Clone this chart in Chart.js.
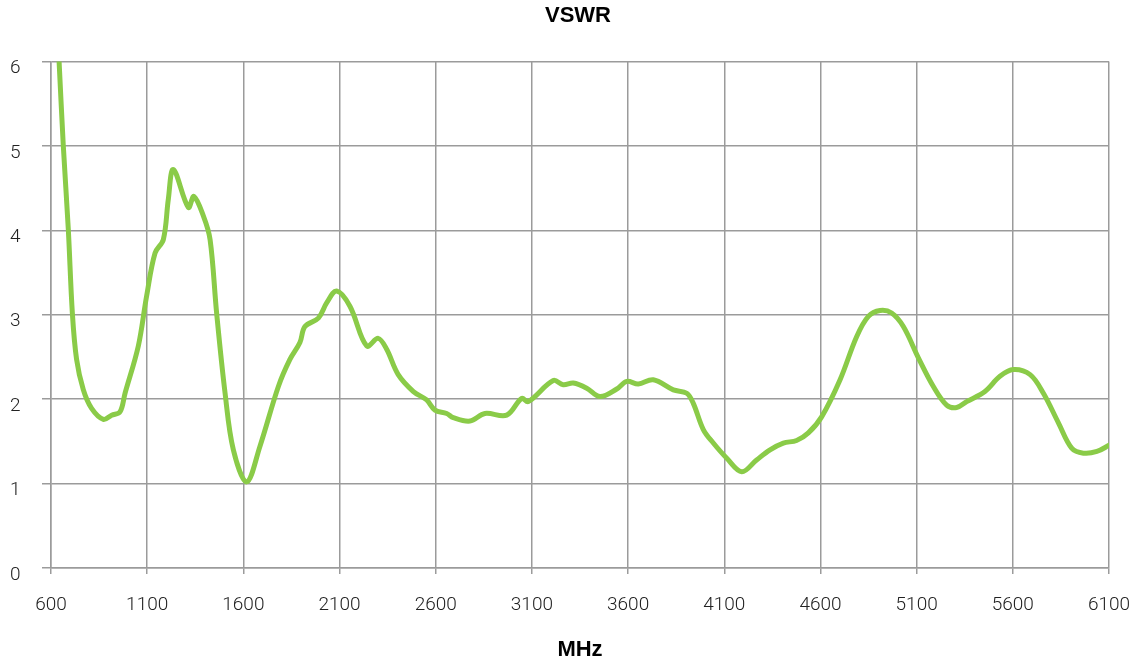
<!DOCTYPE html>
<html>
<head>
<meta charset="utf-8">
<title>VSWR</title>
<script src="https://cdn.jsdelivr.net/npm/chart.js@4/dist/chart.umd.min.js"></script>
<style>
  html, body { margin: 0; padding: 0; background: #fff; }
  #wrap { width: 1148px; height: 666px; }
</style>
</head>
<body>
<div id="wrap"><canvas id="vswrChart" width="1148" height="666"></canvas></div>
<script>
// ── Données ──
const freqMHz = [
  642, 664, 690, 711, 733, 768, 811, 872, 915, 959,
  985, 1054, 1097, 1141, 1184, 1210, 1236, 1314, 1343, 1392,
  1427, 1461, 1505, 1548, 1617, 1686, 1782, 1842, 1894, 1920,
  1990, 2033, 2085, 2154, 2241, 2301, 2345, 2405, 2484, 2553,
  2596, 2657, 2691, 2778, 2856, 2969, 3047, 3081, 3211, 3263,
  3315, 3385, 3454, 3541, 3593, 3653, 3731, 3835, 3905, 3939,
  3991, 4043, 4113, 4191, 4268, 4338, 4407, 4476, 4537, 4606,
  4702, 4788, 4849, 4910, 4970, 5031, 5109, 5187, 5256, 5308,
  5360, 5455, 5533, 5603, 5690, 5759, 5837, 5906, 5967, 6037,
  6105
];
const vswr = [
  6.00, 5.00, 4.01, 3.02, 2.47, 2.11, 1.89, 1.76, 1.81, 1.85,
  2.07, 2.63, 3.22, 3.73, 3.89, 4.37, 4.72, 4.27, 4.40, 4.17,
  3.89, 3.02, 2.07, 1.40, 1.02, 1.44, 2.15, 2.47, 2.67, 2.86,
  2.96, 3.14, 3.28, 3.10, 2.63, 2.72, 2.59, 2.29, 2.09, 1.99,
  1.87, 1.83, 1.78, 1.74, 1.83, 1.81, 2.01, 1.97, 2.22, 2.17,
  2.19, 2.13, 2.03, 2.12, 2.21, 2.18, 2.23, 2.11, 2.07, 1.95,
  1.64, 1.48, 1.30, 1.14, 1.28, 1.40, 1.48, 1.51, 1.60, 1.79,
  2.23, 2.74, 2.98, 3.05, 3.02, 2.86, 2.49, 2.15, 1.93, 1.90,
  1.97, 2.09, 2.27, 2.35, 2.29, 2.07, 1.72, 1.42, 1.36, 1.38,
  1.46
];
const xTicks = [600, 1100, 1600, 2100, 2600, 3100, 3600, 4100, 4600, 5100, 5600, 6100];
const yTicks = [0, 1, 2, 3, 4, 5, 6];

const GRID = '#9b9b9b';
const points = freqMHz.map((f, i) => ({ x: f, y: vswr[i] }));

new Chart(document.getElementById('vswrChart').getContext('2d'), {
  type: 'line',
  data: {
    datasets: [{
      label: 'VSWR',
      data: points,
      borderColor: '#8acb48',
      borderWidth: 5,
      fill: false,
      tension: 0.35,
      pointRadius: 0,
      borderCapStyle: 'round',
      borderJoinStyle: 'round'
    }]
  },
  options: {
    responsive: false,
    animation: false,
    layout: { padding: { left: 10, right: 2, top: 0, bottom: 0 } },
    plugins: {
      legend: { display: false },
      tooltip: { enabled: false },
      title: {
        display: true,
        text: 'VSWR',
        color: '#000',
        font: { family: 'Liberation Sans, Arial, sans-serif', size: 22, weight: 'bold' },
        padding: { top: 3, bottom: 32 }
      }
    },
    scales: {
      x: {
        type: 'linear',
        min: xTicks[0],
        max: xTicks[xTicks.length - 1],
        afterBuildTicks: s => { s.ticks = xTicks.map(v => ({ value: v })); },
        afterFit: s => { s.height = 98; s.paddingLeft = 0; s.paddingRight = 0; },
        ticks: {
          color: '#222',
          padding: 20,
          font: { family: 'Roboto', size: 19, weight: 300 },
          callback: v => String(v)
        },
        grid: { color: GRID, lineWidth: 1.5, tickLength: 6 },
        border: { color: GRID, width: 1.5 },
        title: {
          display: true,
          text: 'MHz',
          color: '#000',
          font: { family: 'Liberation Sans, Arial, sans-serif', size: 22, weight: 'bold' },
          padding: { top: 0, bottom: 3 }
        }
      },
      y: {
        min: yTicks[0],
        max: yTicks[yTicks.length - 1],
        afterBuildTicks: s => { s.ticks = yTicks.map(v => ({ value: v })); },
        afterFit: s => { s.width = 41; },
        ticks: {
          color: '#222',
          crossAlign: 'far',
          labelOffset: 7,
          font: { family: 'Roboto', size: 19, weight: 300 }
        },
        grid: { color: GRID, lineWidth: 1.5, tickLength: 9 },
        border: { color: GRID, width: 1.5 }
      },
      // axe factice pour réserver la marge de droite
      yRight: {
        position: 'right',
        display: true,
        min: 0,
        max: 6,
        afterFit: s => { s.width = 37; },
        ticks: { display: false },
        grid: { display: false, drawTicks: false },
        border: { display: false }
      }
    }
  }
});
</script>
</body>
</html>
